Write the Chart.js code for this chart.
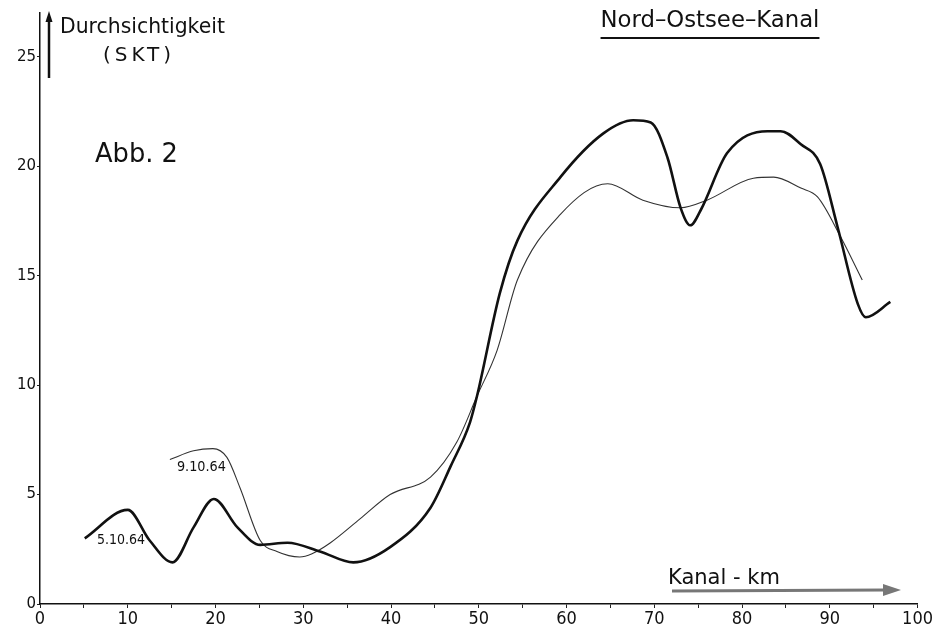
<!DOCTYPE html>
<html>
<head>
<meta charset="utf-8">
<script src="https://cdn.jsdelivr.net/npm/chart.js@4/dist/chart.umd.min.js"></script>
<style>
html,body{margin:0;padding:0;background:#fff;}
#wrap{width:934px;height:631px;position:relative;}
</style>
</head>
<body>
<div id="wrap"><canvas id="c" width="934" height="631"></canvas></div>
<script>
// Kanal-km (x) and Durchsichtigkeit (y) for the two measurement dates
const km_5_10_64 = [5.1, 10.0, 12.5, 15.1, 17.5, 19.8, 22.5, 25.1, 28.2, 31.9, 35.7, 39.9, 44.5, 46.8, 49.0, 49.8, 52.4, 54.4, 59.3, 64.2, 67.6, 69.6, 71.5, 73.0, 74.1, 75.3, 78.3, 82.9, 84.4, 86.7, 88.9, 90.9, 93.2, 94.1, 96.9];
const skt_5_10_64 = [3.0, 4.3, 2.9, 1.9, 3.5, 4.8, 3.5, 2.7, 2.8, 2.4, 1.9, 2.6, 4.4, 6.3, 8.3, 9.5, 14.2, 16.6, 19.5, 21.5, 22.1, 22.0, 20.4, 18.1, 17.3, 18.0, 20.6, 21.6, 21.6, 21.0, 20.1, 17.2, 13.7, 13.1, 13.8];
const km_9_10_64 = [14.8, 17.5, 19.7, 21.3, 22.8, 25.1, 27.0, 29.6, 31.0, 33.1, 36.5, 39.9, 44.5, 47.5, 49.8, 52.1, 54.4, 59.3, 64.7, 68.7, 73.0, 76.0, 81.3, 83.6, 86.7, 88.6, 91.2, 93.7];
const skt_9_10_64 = [6.6, 7.0, 7.1, 6.7, 5.3, 2.9, 2.4, 2.15, 2.3, 2.8, 3.9, 5.0, 5.8, 7.4, 9.5, 11.6, 14.8, 17.8, 19.2, 18.45, 18.1, 18.45, 19.45, 19.5, 19.0, 18.6, 16.8, 14.8];
const xTicks = [0, 10, 20, 30, 40, 50, 60, 70, 80, 90, 100];
const yTicks = [0, 5, 10, 15, 20, 25];
const seriesNames = ["5.10.64", "9.10.64"];

const toPts = (xs, ys) => xs.map((x, i) => ({x: x, y: ys[i]}));

const FONT = "'DejaVu Sans', sans-serif";
const CFONT = "'DejaVu Sans Condensed', 'DejaVu Sans', sans-serif";

function fitText(ctx, text, x, y, width, size, family, align) {
  ctx.font = size + "px " + family;
  const w = ctx.measureText(text).width;
  const s = size * width / w;
  ctx.font = s.toFixed(2) + "px " + family;
  ctx.textAlign = align || 'left';
  ctx.fillText(text, x, y);
  return ctx.measureText(text).width;
}

const annot = {
  id: 'annot',
  afterDraw(chart) {
    const ctx = chart.ctx;
    const xs = chart.scales.x, ys = chart.scales.y;
    ctx.save();
    ctx.fillStyle = '#111';
    ctx.strokeStyle = '#111';
    ctx.textBaseline = 'middle';
    // y axis title with arrow
    fitText(ctx, 'Durchsichtigkeit', 60, 28, 165, 18, FONT);
    ctx.font = "20px " + FONT;
    ctx.textAlign = 'left';
    if ('letterSpacing' in ctx) {
      ctx.letterSpacing = '4px';
      ctx.fillText('(SKT)', 103, 56);
      ctx.letterSpacing = '0px';
    } else {
      ctx.fillText('( S K T )', 103, 56);
    }
    ctx.lineWidth = 2.5;
    ctx.beginPath(); ctx.moveTo(49, 78); ctx.lineTo(49, 20); ctx.stroke();
    ctx.beginPath(); ctx.moveTo(49, 11); ctx.lineTo(45.5, 22); ctx.lineTo(52.5, 22); ctx.closePath(); ctx.fill();
    // title
    const tw = fitText(ctx, 'Nord\u2013Ostsee\u2013Kanal', 710, 21, 219, 19, FONT, 'center');
    ctx.lineWidth = 2;
    ctx.beginPath(); ctx.moveTo(710 - tw / 2, 38); ctx.lineTo(710 + tw / 2, 38); ctx.stroke();
    // Abb. 2
    fitText(ctx, 'Abb. 2', 95, 155, 83, 26, FONT);
    // series labels
    fitText(ctx, seriesNames[0], xs.getPixelForValue(6.5), ys.getPixelForValue(2.9), 48, 14, CFONT);
    fitText(ctx, seriesNames[1], xs.getPixelForValue(15.6), ys.getPixelForValue(6.25), 49, 14, CFONT);
    // x axis title with arrow
    fitText(ctx, 'Kanal - km', 668, 579, 112, 18, FONT);
    ctx.strokeStyle = '#777';
    ctx.fillStyle = '#777';
    ctx.lineWidth = 3;
    ctx.beginPath(); ctx.moveTo(672, 591); ctx.lineTo(885, 590); ctx.stroke();
    ctx.beginPath(); ctx.moveTo(901, 590); ctx.lineTo(883, 584); ctx.lineTo(883, 596); ctx.closePath(); ctx.fill();
    ctx.restore();
  }
};

new Chart(document.getElementById('c'), {
  type: 'line',
  data: {
    datasets: [
      { label: seriesNames[0], data: toPts(km_5_10_64, skt_5_10_64), borderColor: '#111', borderWidth: 2.6, pointRadius: 0, tension: 0.4, cubicInterpolationMode: 'monotone', fill: false },
      { label: seriesNames[1], data: toPts(km_9_10_64, skt_9_10_64), borderColor: '#333', borderWidth: 1.1, pointRadius: 0, tension: 0.4, cubicInterpolationMode: 'monotone', fill: false }
    ]
  },
  options: {
    responsive: false,
    animation: false,
    layout: { padding: { left: 0, right: 16, top: 13, bottom: 0 } },
    plugins: { legend: { display: false }, tooltip: { enabled: false }, title: { display: false } },
    scales: {
      x: {
        type: 'linear', min: 0, max: 100,
        afterBuildTicks: a => { a.ticks = []; for (let v = 0; v <= 100; v += 5) a.ticks.push({value: v}); },
        afterFit: a => { a.height = 27; },
        ticks: { autoSkip: false, maxRotation: 0, color: '#111', padding: 1, font: { family: CFONT, size: 18 },
                 callback: v => xTicks.includes(v) ? String(v) : '' },
        grid: { display: true, drawOnChartArea: false, tickLength: 4, color: '#222', lineWidth: 1 },
        border: { display: true, color: '#111', width: 1.5 }
      },
      y: {
        type: 'linear', min: 0, max: 27,
        afterBuildTicks: a => { a.ticks = yTicks.map(v => ({value: v})); },
        afterFit: a => { a.width = 40; },
        ticks: { color: '#111', padding: 1, font: { family: FONT, size: 15 } },
        grid: { display: true, drawOnChartArea: false, tickLength: 3, color: '#222', lineWidth: 1 },
        border: { display: true, color: '#111', width: 1.5 }
      }
    }
  },
  plugins: [annot]
});
</script>
</body>
</html>
